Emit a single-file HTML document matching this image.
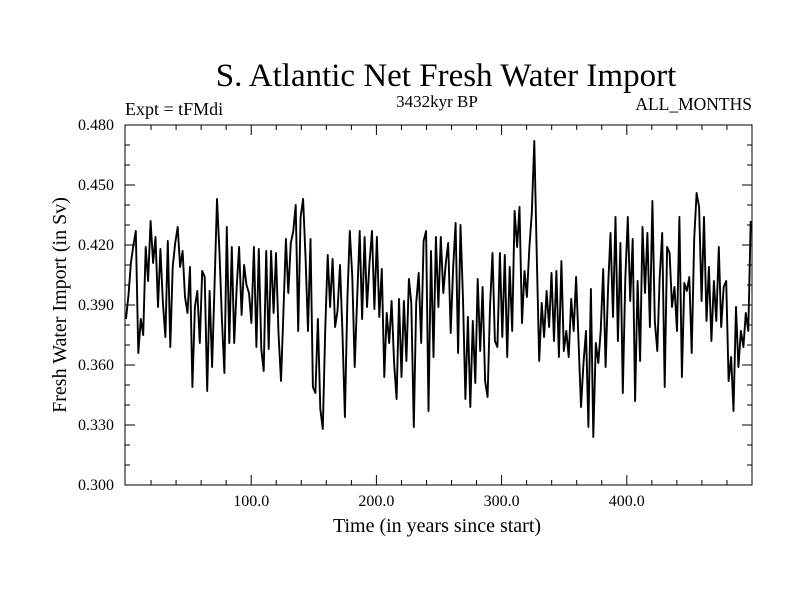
<!DOCTYPE html>
<html><head><meta charset="utf-8"><style>
body{margin:0;background:#fff;}
svg text{font-family:"Liberation Serif",serif;fill:#000;}
</style></head><body>
<svg id="chart" width="800" height="600" xmlns="http://www.w3.org/2000/svg">
<rect width="800" height="600" fill="#fff"/>
<text x="446" y="86" font-size="33" text-anchor="middle">S. Atlantic Net Fresh Water Import</text>
<text x="125" y="115" font-size="18">Expt = tFMdi</text>
<text x="437" y="107" font-size="17" text-anchor="middle">3432kyr BP</text>
<text x="752" y="110" font-size="17.5" text-anchor="end">ALL_MONTHS</text>
<text x="437" y="532" font-size="20" text-anchor="middle">Time (in years since start)</text>
<text transform="translate(66,305) rotate(-90)" font-size="20" text-anchor="middle">Fresh Water Import (in Sv)</text>
<g id="axes"></g>
<path id="series" fill="none" stroke="#000" stroke-width="1.9" stroke-linejoin="round"/>
<rect x="125" y="125" width="627" height="360" fill="none" stroke="#000" stroke-width="1"/>
</svg>
<script>
const values = [383,395,411,420,427,366,383,375,419,402,432,411,424,389,418,391,374,422,369,409,421,429,409,417,394,386,409,349,389,397,371,407,404,347,397,359,399,443,416,383,356,429,371,419,371,399,419,385,410,400,
396,381,419,369,418,368,357,417,368,417,386,416,376,352,386,423,396,421,427,440,377,434,443,413,377,423,349,346,383,338,328,377,415,389,413,379,387,410,377,334,393,427,404,359,394,427,383,424,389,
411,427,388,424,384,408,354,386,371,392,361,343,393,354,392,362,403,391,329,391,406,371,422,427,337,417,364,424,389,424,396,411,421,376,408,431,366,430,393,343,384,339,382,351,403,367,399,352,344,389,416,372,
369,416,374,415,364,409,377,437,419,439,381,407,394,419,436,472,414,362,391,374,397,379,406,372,407,364,412,367,377,364,393,377,404,371,339,361,377,329,398,324,371,361,377,408,359,399,426,384,434,372,421,346,403,
434,392,423,342,402,362,429,396,426,379,442,382,367,404,426,349,419,416,389,399,377,434,354,401,397,404,366,423,446,439,392,434,382,409,372,402,382,419,379,399,402,352,364,337,389,359,377,369,386,377,432];
const yTicks = [0.300,0.330,0.360,0.390,0.420,0.450,0.480];
const xTicks = [100,200,300,400];
const xMin=0,xMax=500,yMin=0.300,yMax=0.480,L=125,R=752,T=125,B=485;
const xs=v=>L+1+(v-xMin)/(xMax-xMin)*(R-L-1);
const ys=v=>B-(v-yMin)/(yMax-yMin)*(B-T);
const NS="http://www.w3.org/2000/svg";
const ax=document.getElementById('axes');
function line(x1,y1,x2,y2,name){const l=document.createElementNS(NS,'line');l.setAttribute('x1',x1);l.setAttribute('y1',y1);l.setAttribute('x2',x2);l.setAttribute('y2',y2);l.setAttribute('stroke','#000');


ax.appendChild(l);}
for(let v=0.300;v<=0.4801;v+=0.010){const y=ys(v);const major=Math.abs(Math.round(v*1000)%30)<1;const len=major?10:5;line(L,y,L+len,y,'y-tick');line(R,y,R-len,y,'y-tick');}
yTicks.forEach(v=>{const t=document.createElementNS(NS,'text');t.setAttribute('x',L-11);t.setAttribute('y',ys(v)+5);t.setAttribute('font-size','16');t.setAttribute('text-anchor','end');t.textContent=v.toFixed(3);


ax.appendChild(t);});
for(let v=20;v<500;v+=20){const x=xs(v);const major=v%100===0;const len=major?10:5;line(x,B,x,B-len,'x-tick');line(x,T,x,T+len,'x-tick');}
xTicks.forEach(v=>{const t=document.createElementNS(NS,'text');t.setAttribute('x',xs(v));t.setAttribute('y',B+21);t.setAttribute('font-size','16');t.setAttribute('text-anchor','middle');t.textContent=v.toFixed(1);


ax.appendChild(t);});
const n=values.length;
let d='';values.forEach((v,i)=>{const yr=i*(499/(n-1));d+=(i?'L':'M')+xs(yr).toFixed(1)+' '+ys(v/1000).toFixed(1);});
document.getElementById('series').setAttribute('d',d);
</script>
</body></html>
